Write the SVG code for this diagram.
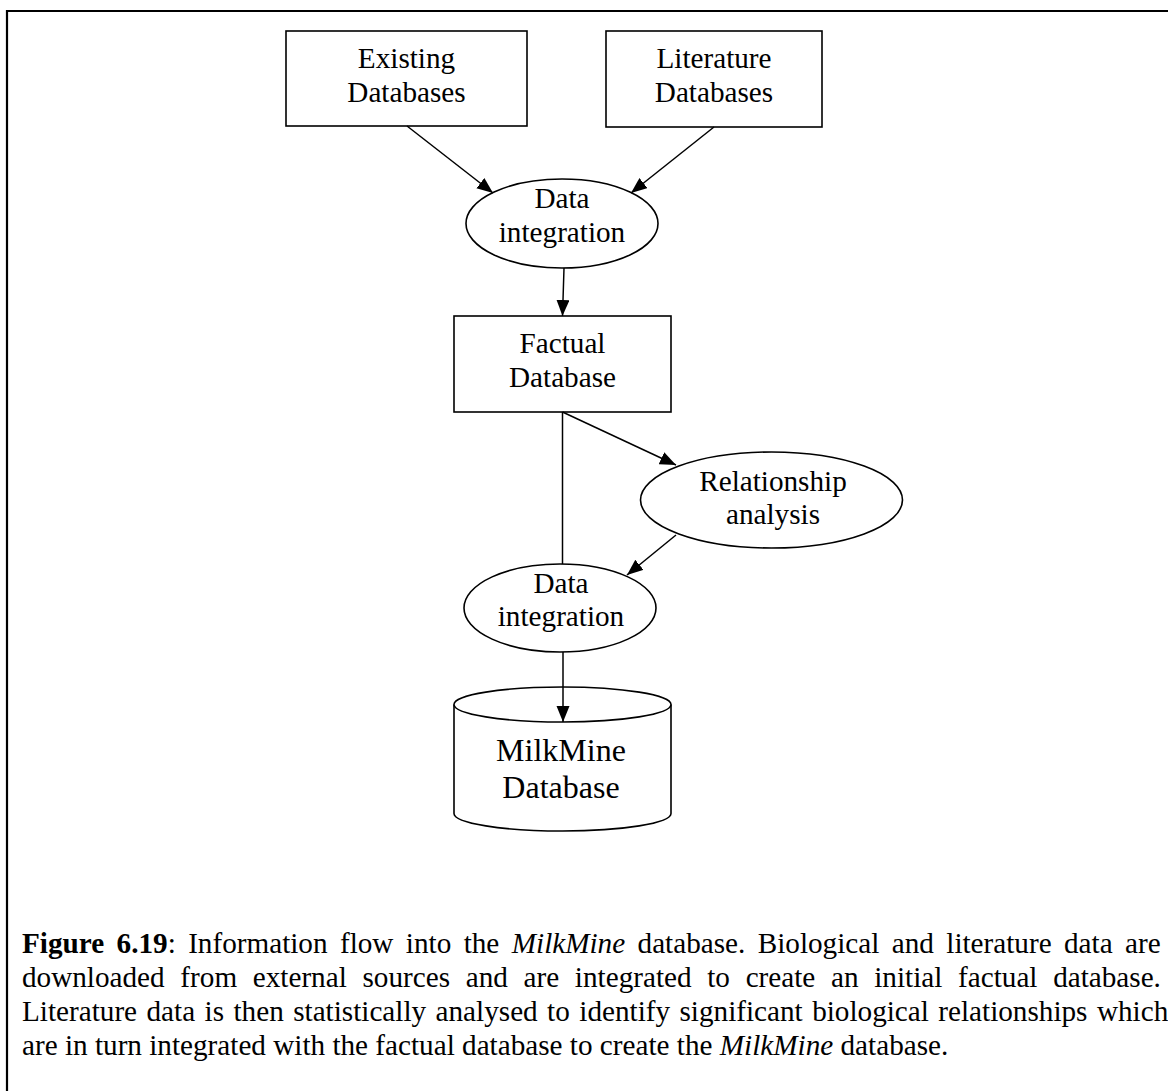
<svg xmlns="http://www.w3.org/2000/svg" width="1168" height="1091" viewBox="0 0 1168 1091">
  <style>
    .shape { fill: #ffffff; stroke: #000000; stroke-width: 1.6; }
    .edge { fill: none; stroke: #000000; stroke-width: 1.5; }
    .lbl { font-size: 29.2px; fill: #000000; text-anchor: middle; }
    .big { font-size: 32px; }
    .cap { font-size: 29.2px; fill: #000000; }
    .b { font-weight: bold; }
    .i { font-style: italic; }
  </style>
  <defs>
    <marker id="arrow" markerUnits="userSpaceOnUse" markerWidth="17" markerHeight="14" refX="16" refY="6.5" orient="auto">
      <path d="M0,0 L16,6.5 L0,13 z" fill="#000000"/>
    </marker>
  </defs>

  <rect width="1168" height="1091" fill="#ffffff"/>

  <!-- outer frame (left and top edges) -->
  <path d="M7,1091 V11 H1168" fill="none" stroke="#000000" stroke-width="2.2"/>

  <g font-family="Liberation Serif, Tinos, Times New Roman, serif">
    <g id="existing-databases">
      <rect class="shape" x="286" y="31" width="241" height="95"/>
      <text class="lbl" x="406.5" y="68">Existing</text>
      <text class="lbl" x="406.5" y="102">Databases</text>
    </g>

    <g id="literature-databases">
      <rect class="shape" x="606" y="31" width="216" height="96"/>
      <text class="lbl" x="714" y="68">Literature</text>
      <text class="lbl" x="714" y="102">Databases</text>
    </g>

    <g id="data-integration-1">
      <ellipse class="shape" cx="562" cy="223.5" rx="96" ry="44.5"/>
      <text class="lbl" x="562" y="208">Data</text>
      <text class="lbl" x="562" y="242">integration</text>
    </g>

    <g id="factual-database">
      <rect class="shape" x="454" y="316" width="217" height="96"/>
      <text class="lbl" x="562.5" y="353">Factual</text>
      <text class="lbl" x="562.5" y="387">Database</text>
    </g>

    <g id="relationship-analysis">
      <ellipse class="shape" cx="771.5" cy="500" rx="131" ry="48"/>
      <text class="lbl" x="773" y="491">Relationship</text>
      <text class="lbl" x="773" y="524">analysis</text>
    </g>

    <g id="data-integration-2">
      <ellipse class="shape" cx="560" cy="608" rx="96" ry="44"/>
      <text class="lbl" x="561" y="592.7">Data</text>
      <text class="lbl" x="561" y="626">integration</text>
    </g>

    <g id="milkmine-database">
      <path class="shape" d="M454,704.5 V813.5 A108.5,17.5 0 0 0 671,813.5 V704.5"/>
      <ellipse class="shape" cx="562.5" cy="704.5" rx="108.5" ry="17.5"/>
      <text class="lbl big" x="561" y="761">MilkMine</text>
      <text class="lbl big" x="561" y="798">Database</text>
    </g>

    <g id="caption">
      <text class="cap" x="22" y="953" word-spacing="5.1"><tspan class="b">Figure 6.19</tspan>: Information flow into the <tspan class="i">MilkMine</tspan> database. Biological and literature data are</text>
      <text class="cap" x="22" y="987" word-spacing="8.4">downloaded from external sources and are integrated to create an initial factual database.</text>
      <text class="cap" x="22" y="1021" word-spacing="2.15">Literature data is then statistically analysed to identify significant biological relationships which</text>
      <text class="cap" x="22" y="1055">are in turn integrated with the factual database to create the <tspan class="i">MilkMine</tspan> database.</text>
    </g>
  </g>

  <g id="connectors">
    <line class="edge" x1="407" y1="126" x2="493" y2="193" marker-end="url(#arrow)"/>
    <line class="edge" x1="714" y1="127" x2="631" y2="193" marker-end="url(#arrow)"/>
    <line class="edge" x1="564" y1="268" x2="562.5" y2="316" marker-end="url(#arrow)"/>
    <line class="edge" x1="562.5" y1="412" x2="676" y2="465" marker-end="url(#arrow)"/>
    <line class="edge" x1="562.5" y1="412" x2="562.5" y2="564"/>
    <line class="edge" x1="676" y1="535" x2="627" y2="575" marker-end="url(#arrow)"/>
    <line class="edge" x1="563" y1="652" x2="563" y2="722" marker-end="url(#arrow)"/>
  </g>
</svg>
